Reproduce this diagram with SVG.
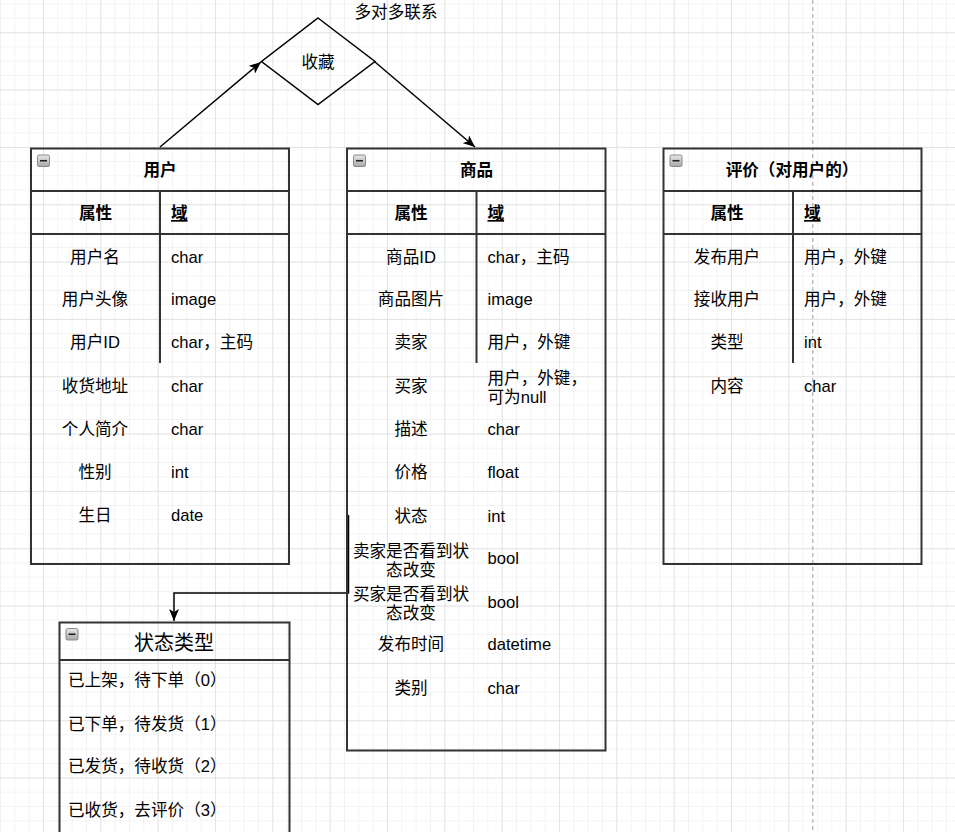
<svg xmlns="http://www.w3.org/2000/svg" width="955" height="832" viewBox="0 0 955 832">
<style>
text{font-family:"Liberation Sans","Noto Sans CJK SC",sans-serif;font-size:16.6px;fill:#000}
.ti{font-weight:bold;text-anchor:middle}
.hd{font-weight:bold;text-anchor:middle}
.hu{font-weight:bold;text-decoration:underline}
.a{text-anchor:middle}
.st{font-size:20px;text-anchor:middle}
.box{fill:none;stroke:#333;stroke-width:2}
.ln{stroke:#333;stroke-width:2;fill:none}
.cn{stroke:#000;stroke-width:1.5;fill:none}
</style>
<defs>
<pattern id="gmin" width="14.333" height="14.333" x="0" y="3.33" patternUnits="userSpaceOnUse">
<path d="M0,0H14.333M0,0V14.333" stroke="#efefef" stroke-width="1.4" fill="none"/>
</pattern>
<pattern id="gmaj" width="57.333" height="57.333" x="43" y="32.33" patternUnits="userSpaceOnUse">
<path d="M0,0H57.333M0,0V57.333" stroke="#dedede" stroke-width="1.4" fill="none"/>
</pattern>
<linearGradient id="ig" x1="0" y1="0" x2="0" y2="1">
<stop offset="0" stop-color="#e8e8e8"/><stop offset="1" stop-color="#a8a8a8"/>
</linearGradient>
<g id="minus">
<rect x="0" y="0" width="12" height="11.5" rx="1.5" fill="url(#ig)" stroke="#8a8a8a" stroke-width="1"/>
<path d="M2.5,5.75H9.5" stroke="#222" stroke-width="1.6"/>
</g>
<marker id="arr" viewBox="0 0 12 10" refX="12" refY="5" markerWidth="12" markerHeight="10" markerUnits="userSpaceOnUse" orient="auto">
<path d="M0,0L12,5L0,10L3,5Z" fill="#000"/>
</marker>
</defs>
<rect width="955" height="832" fill="#fff"/>
<rect width="955" height="832" fill="url(#gmin)"/>
<rect width="955" height="832" fill="url(#gmaj)"/>
<line x1="812.7" y1="0" x2="812.7" y2="832" stroke="#bdbdbd" stroke-width="1.5" stroke-dasharray="4,3"/>

<text x="396" y="17.5" style="text-anchor:middle">多对多联系</text>

<g id="connectors">
<path class="cn" d="M160,147L261,62" marker-end="url(#arr)"/>
<path class="cn" d="M375,62L475,147" marker-end="url(#arr)"/>
<path class="cn" d="M348.5,515V593H174V621" marker-end="url(#arr)"/>
</g>

<g id="favorite">
<path d="M318,18L375,61.5L318,104.5L261.5,61.5Z" fill="none" stroke="#000" stroke-width="1.5"/>
<text class="a" x="318" y="67.5">收藏</text>
</g>

<g id="user">
<rect class="box" x="31" y="148.5" width="258" height="415.5"/>
<line class="ln" x1="31" y1="191" x2="289" y2="191"/>
<line class="ln" x1="31" y1="234" x2="289" y2="234"/>
<line class="ln" x1="160" y1="191" x2="160" y2="363"/>
<use href="#minus" x="37.5" y="155"/>
<text class="ti" x="160" y="176">用户</text>
<text class="hd" x="95.5" y="219">属性</text>
<text class="hu" x="171" y="219">域</text>
<text class="a" x="95" y="262.5">用户名</text><text x="171" y="262.5">char</text>
<text class="a" x="95" y="304.5">用户头像</text><text x="171" y="304.5">image</text>
<text class="a" x="95" y="348">用户ID</text><text x="171" y="348">char，主码</text>
<text class="a" x="95" y="392">收货地址</text><text x="171" y="392">char</text>
<text class="a" x="95" y="435">个人简介</text><text x="171" y="435">char</text>
<text class="a" x="95" y="477.5">性别</text><text x="171" y="477.5">int</text>
<text class="a" x="95" y="521">生日</text><text x="171" y="521">date</text>
</g>

<g id="product">
<rect class="box" x="347" y="148.5" width="258.5" height="602"/>
<line class="ln" x1="347" y1="191" x2="605.5" y2="191"/>
<line class="ln" x1="347" y1="234" x2="605.5" y2="234"/>
<line class="ln" x1="476.5" y1="191" x2="476.5" y2="363"/>
<use href="#minus" x="353.5" y="155"/>
<text class="ti" x="476.5" y="176">商品</text>
<text class="hd" x="411" y="219">属性</text>
<text class="hu" x="487.5" y="219">域</text>
<text class="a" x="411" y="262.5">商品ID</text><text x="487.5" y="262.5">char，主码</text>
<text class="a" x="411" y="304.5">商品图片</text><text x="487.5" y="304.5">image</text>
<text class="a" x="411" y="348">卖家</text><text x="487.5" y="348">用户，外键</text>
<text class="a" x="411" y="392">买家</text><text x="487.5" y="383.5">用户，外键，</text><text x="487.5" y="403">可为null</text>
<text class="a" x="411" y="435">描述</text><text x="487.5" y="435">char</text>
<text class="a" x="411" y="477.5">价格</text><text x="487.5" y="477.5">float</text>
<text class="a" x="411" y="521.5">状态</text><text x="487.5" y="521.5">int</text>
<text class="a" x="411" y="556.5">卖家是否看到状</text><text class="a" x="411" y="575.5">态改变</text><text x="487.5" y="563.5">bool</text>
<text class="a" x="411" y="600">买家是否看到状</text><text class="a" x="411" y="618.5">态改变</text><text x="487.5" y="607.5">bool</text>
<text class="a" x="411" y="649.5">发布时间</text><text x="487.5" y="649.5">datetime</text>
<text class="a" x="411" y="694">类别</text><text x="487.5" y="694">char</text>
</g>

<g id="review">
<rect class="box" x="663.5" y="148.5" width="258" height="415.5"/>
<line class="ln" x1="663.5" y1="191" x2="921.5" y2="191"/>
<line class="ln" x1="663.5" y1="234" x2="921.5" y2="234"/>
<line class="ln" x1="793" y1="191" x2="793" y2="363"/>
<use href="#minus" x="670" y="155"/>
<text class="ti" x="792" y="176">评价（对用户的）</text>
<text class="hd" x="727" y="219">属性</text>
<text class="hu" x="804" y="219">域</text>
<text class="a" x="727" y="262.5">发布用户</text><text x="804" y="262.5">用户，外键</text>
<text class="a" x="727" y="304.5">接收用户</text><text x="804" y="304.5">用户，外键</text>
<text class="a" x="727" y="348">类型</text><text x="804" y="348">int</text>
<text class="a" x="727" y="392">内容</text><text x="804" y="392">char</text>
</g>

<g id="status">
<rect class="box" x="59.5" y="622.5" width="230" height="220"/>
<line class="ln" x1="59.5" y1="660" x2="289.5" y2="660"/>
<use href="#minus" x="66" y="628.5"/>
<text class="st" x="174" y="649.5">状态类型</text>
<text x="68" y="686">已上架，待下单（0）</text>
<text x="68" y="729.5">已下单，待发货（1）</text>
<text x="68" y="772">已发货，待收货（2）</text>
<text x="68" y="815.5">已收货，去评价（3）</text>
</g>
</svg>
